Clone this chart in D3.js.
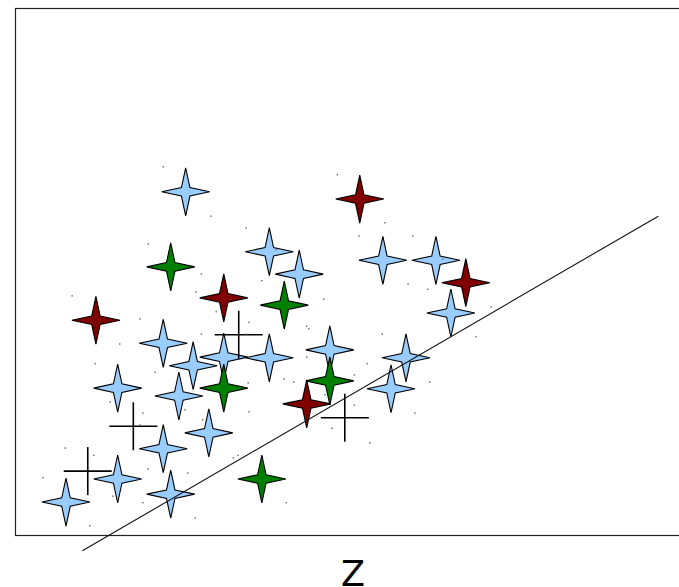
<!DOCTYPE html>
<html>
<head>
<meta charset="utf-8">
<script src="https://cdn.jsdelivr.net/npm/d3@7/dist/d3.min.js"></script>
<style>
  html, body { margin: 0; padding: 0; background: #fff; overflow: hidden; }
  svg { display: block; }
</style>
</head>
<body>
<svg id="chart" width="679" height="587"></svg>
<script>
// Group A (light blue stars)
const blueX = [2.51, 3.74, 4.18, 5.41, 6.19, 6.41, 2.18, 2.62, 3.07, 3.74, 4.63, 1.51, 2.41, 2.85, 2.18, 1.51, 0.75, 2.29, 5.75, 5.53];
const blueY = [5.21, 4.30, 3.96, 4.17, 4.17, 3.37, 2.91, 2.57, 2.70, 2.69, 2.81, 2.23, 2.11, 1.55, 1.31, 0.85, 0.50, 0.62, 2.69, 2.22];
// Group B (dark red stars)
const redX = [5.07, 6.63, 3.07, 1.19, 4.29];
const redY = [5.10, 3.83, 3.60, 3.26, 1.99];
// Group C (green stars)
const greenX = [2.29, 3.96, 3.07, 4.63, 3.63];
const greenY = [4.07, 3.49, 2.23, 2.34, 0.85];
// Group centres (crosses)
const crossX = [3.29, 1.74, 1.07, 4.85];
const crossY = [3.04, 1.65, 0.97, 1.78];
// Separating line endpoints
const lineX = [0.99, 9.46];
const lineY = [-0.24, 4.84];
// Background sample points
const dotX = [2.18, 2.88, 3.40, 4.74, 1.96, 2.74, 2.66, 0.84, 3.63, 4.54, 1.84, 1.54, 2.74, 5.06, 5.44, 5.85, 5.78, 6.07, 7.00, 6.78,
              5.40, 2.96, 3.44, 4.29, 4.32, 3.40, 1.18, 2.06, 1.40, 1.88, 2.76, 2.50, 0.74, 1.16, 0.41, 1.96, 2.54, 1.44, 1.88, 1.10,
              2.65, 3.99, 3.43, 3.96, 4.10, 3.44, 4.29, 4.99, 4.99, 4.66, 3.28, 3.21, 4.56, 5.18, 6.10, 5.88, 5.22, 1.84, 3.84, 6.29];
const dotY = [5.59, 4.84, 4.66, 5.47, 4.42, 3.96, 3.69, 3.63, 3.86, 3.58, 3.28, 2.90, 3.05, 4.54, 4.74, 4.54, 3.81, 3.73, 3.46, 3.01,
              3.05, 3.39, 3.23, 3.17, 3.13, 3.05, 2.60, 2.47, 2.02, 1.85, 1.75, 1.90, 1.32, 1.21, 0.87, 1.00, 0.94, 0.59, 0.49, 0.14,
              0.26, 0.49, 2.31, 2.37, 2.32, 1.87, 2.70, 2.43, 1.97, 1.62, 1.21, 1.17, 2.13, 2.60, 2.32, 1.85, 1.40, 1.67, 4.33, 4.19];
const titleText = "Z";

const svg = d3.select("#chart");
const plot = { left: 15, top: 8, right: 695, bottom: 535 };

const x = d3.scaleLinear().domain([0, 10]).range([plot.left, plot.right]);
const y = d3.scaleLinear().domain([0, 8]).range([plot.bottom, plot.top]);

// Frame (right side runs past the viewport)
svg.append("rect")
  .attr("x", plot.left + 0.5).attr("y", plot.top + 0.5)
  .attr("width", plot.right - plot.left).attr("height", plot.bottom - plot.top)
  .attr("fill", "none").attr("stroke", "#222").attr("stroke-width", 1.2);

// Four-pointed star path
function starPath(R, r) {
  const pts = [];
  for (let i = 0; i < 8; i++) {
    const a = -Math.PI / 2 + i * Math.PI / 4;
    const rad = i % 2 === 0 ? R : r;
    pts.push([rad * Math.cos(a), rad * Math.sin(a)]);
  }
  return d3.line().curve(d3.curveLinearClosed)(pts);
}
const star = starPath(24, 6);

function drawStars(xs, ys, fill) {
  svg.append("g").selectAll("path")
    .data(xs.map((v, i) => [v, ys[i]]))
    .join("path")
    .attr("d", star)
    .attr("transform", d => `translate(${x(d[0])},${y(d[1])})`)
    .attr("fill", fill)
    .attr("stroke", "#000")
    .attr("stroke-width", 1.1)
    .attr("stroke-linejoin", "miter");
}

drawStars(blueX, blueY, "#99ccff");
drawStars(redX, redY, "#800000");
drawStars(greenX, greenY, "#008000");

// Crosses
const cross = svg.append("g").attr("stroke", "#000").attr("stroke-width", 1.6);
const crossData = crossX.map((v, i) => [v, crossY[i]]);
cross.selectAll("line.h").data(crossData).join("line").attr("class", "h")
  .attr("x1", d => x(d[0]) - 24).attr("x2", d => x(d[0]) + 24)
  .attr("y1", d => y(d[1])).attr("y2", d => y(d[1]));
cross.selectAll("line.v").data(crossData).join("line").attr("class", "v")
  .attr("x1", d => x(d[0])).attr("x2", d => x(d[0]))
  .attr("y1", d => y(d[1]) - 24).attr("y2", d => y(d[1]) + 24);

// Separating line
svg.append("line")
  .attr("x1", x(lineX[0])).attr("y1", y(lineY[0]))
  .attr("x2", x(lineX[1])).attr("y2", y(lineY[1]))
  .attr("stroke", "#111").attr("stroke-width", 1.1);

// Small background points
svg.append("g").selectAll("rect")
  .data(dotX.map((v, i) => [v, dotY[i]]))
  .join("rect")
  .attr("x", d => x(d[0]) - 0.75).attr("y", d => y(d[1]) - 0.75)
  .attr("width", 1.5).attr("height", 1.5)
  .attr("fill", "#777");

// Axis title
svg.append("text")
  .attr("x", 353).attr("y", 586)
  .attr("text-anchor", "middle")
  .attr("font-family", "DejaVu Sans, sans-serif")
  .attr("font-size", 35)
  .attr("fill", "#000")
  .text(titleText);
</script>
</body>
</html>
